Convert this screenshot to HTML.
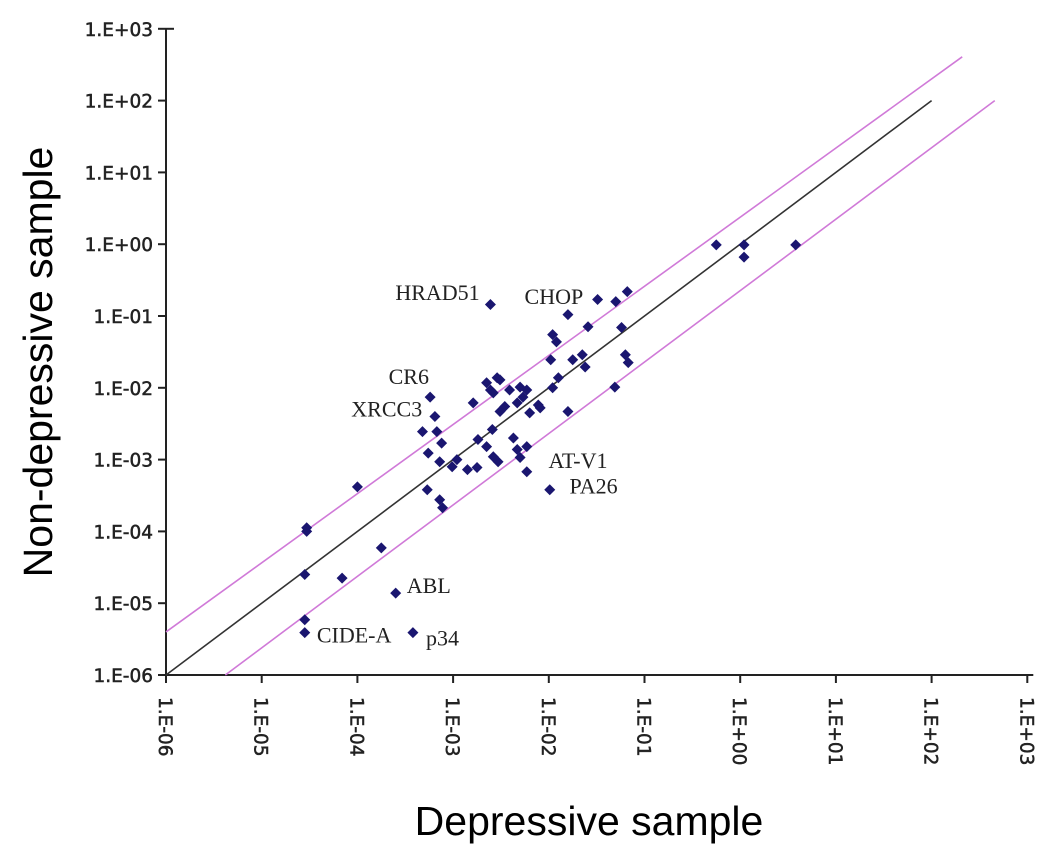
<!DOCTYPE html>
<html><head><meta charset="utf-8"><style>
html,body{margin:0;padding:0;background:#fff;}
svg{display:block;}
</style></head><body>
<svg id="chart" width="1063" height="861" xmlns="http://www.w3.org/2000/svg">
<text x="0" y="0" transform="translate(52,362) rotate(-90)" text-anchor="middle" font-family="Liberation Sans, sans-serif" font-size="41">Non-depressive sample</text>
<text x="589" y="835" text-anchor="middle" font-family="Liberation Sans, sans-serif" font-size="41">Depressive sample</text>
</svg>
<script>
// log10 values
const xTicks = [-6,-5,-4,-3,-2,-1,0,1,2,3];
const yTicks = [-6,-5,-4,-3,-2,-1,0,1,2,3];
const tickLabels = ["1.E-06","1.E-05","1.E-04","1.E-03","1.E-02","1.E-01","1.E+00","1.E+01","1.E+02","1.E+03"];
const xVals = [0.58,-0.25,0.04,0.04,-2.61,-1.49,-1.30,-1.18,-1.80,-1.59,-1.24,-1.92,-1.96,-1.20,-1.17,-1.65,-1.62,-1.75,-1.98,-1.31,-1.80,-1.90,-1.96,-2.11,-2.09,-2.20,-2.23,-2.27,-2.30,-2.33,-2.41,-2.46,-2.51,-2.54,-2.51,-2.61,-2.65,-2.58,-2.79,-3.24,-3.19,-3.32,-3.17,-3.12,-3.26,-3.14,-3.01,-2.96,-2.85,-2.75,-2.74,-2.59,-2.65,-2.58,-2.53,-2.37,-2.33,-2.30,-2.23,-2.23,-1.99,-3.27,-3.14,-3.11,-4.00,-3.75,-4.16,-4.53,-4.53,-4.55,-3.60,-4.55,-4.55,-3.42];
const yVals = [-0.01,-0.01,-0.01,-0.18,-0.84,-0.77,-0.80,-0.66,-0.98,-1.15,-1.16,-1.36,-1.26,-1.54,-1.65,-1.54,-1.71,-1.61,-1.61,-1.99,-2.33,-1.86,-2.00,-2.24,-2.28,-2.35,-2.03,-2.13,-1.99,-2.21,-2.03,-2.26,-2.33,-1.86,-1.89,-2.03,-1.93,-2.07,-2.21,-2.13,-2.40,-2.61,-2.61,-2.77,-2.91,-3.03,-3.10,-3.00,-3.14,-3.11,-2.72,-2.58,-2.82,-2.96,-3.03,-2.70,-2.86,-2.97,-2.82,-3.17,-3.42,-3.42,-3.56,-3.67,-3.38,-4.23,-4.65,-3.95,-4.00,-4.60,-4.86,-5.23,-5.41,-5.41];
const diagLine = [[-6,-6],[2,2]];
const upperLine = [[-6,-5.4],[2.32,2.61]];
const lowerLine = [[-5.38,-6],[2.66,2]];
const geneNames = ["HRAD51","CHOP","CR6","XRCC3","AT-V1","PA26","ABL","CIDE-A","p34"];
const geneLX = [-3.75,-2.40,-3.82,-4.21,-2.15,-1.93,-3.63,-4.57,-3.43];
const geneLY = [-0.78,-0.83,-1.95,-2.40,-3.12,-3.47,-4.86,-5.55,-5.59];

const X = l => 166 + (l + 6) * 95.7;
const Y = l => 675 - (l + 6) * 71.8;
const svg = document.getElementById('chart');
const NS = "http://www.w3.org/2000/svg";
function mk(tag, attrs){ const e=document.createElementNS(NS,tag); for(const k in attrs) e.setAttribute(k,attrs[k]); svg.appendChild(e); return e; }

let a = mk('line',{x1:X(-6),y1:Y(3),x2:X(-6),y2:Y(-6),stroke:'#222','stroke-width':2});


a = mk('line',{x1:X(-6),y1:Y(-6),x2:X(3)+6,y2:Y(-6),stroke:'#222','stroke-width':2});


yTicks.forEach((t,i)=>{
  const tk = mk('line',{x1:X(-6)-8,y1:Y(t),x2:X(-6)+(i===9?8:0),y2:Y(t),stroke:'#222','stroke-width':2});
  
  
  const tx = mk('text',{x:153,y:Y(t)+7,'text-anchor':'end','font-family':'DejaVu Sans, sans-serif','font-size':18.5,fill:'#222',stroke:'#222','stroke-width':0.5});
  tx.textContent = tickLabels[i];
  
  
});
xTicks.forEach((t,i)=>{
  const tk = mk('line',{x1:X(t),y1:Y(-6),x2:X(t),y2:Y(-6)+8,stroke:'#222','stroke-width':2});
  
  
  const tx = mk('text',{x:0,y:0,transform:`translate(${X(t)-7},697) rotate(90)`,'text-anchor':'start','font-family':'DejaVu Sans, sans-serif','font-size':18.5,fill:'#222',stroke:'#222','stroke-width':0.5});
  tx.textContent = tickLabels[i];
  
  
});
[[diagLine,'#333','diagonal-line'],[upperLine,'#d07ad8','upper-threshold-line'],[lowerLine,'#d07ad8','lower-threshold-line']].forEach(([ln,c,n])=>{
  const l = mk('line',{x1:X(ln[0][0]),y1:Y(ln[0][1]),x2:X(ln[1][0]),y2:Y(ln[1][1]),stroke:c,'stroke-width':1.6});
  
  
});
xVals.forEach((v,i)=>{
  const cx=X(v), cy=Y(yVals[i]), r=5.5;
  const p = mk('polygon',{points:`${cx},${cy-r} ${cx+r},${cy} ${cx},${cy+r} ${cx-r},${cy}`,fill:'#1a1670'});
  
  
});
geneNames.forEach((g,i)=>{
  const t = mk('text',{x:X(geneLX[i])+14,y:Y(geneLY[i]),'font-family':'Liberation Serif, serif','font-size':22,fill:'#222'});
  t.textContent = g;
  
  
});
</script>
</body></html>
